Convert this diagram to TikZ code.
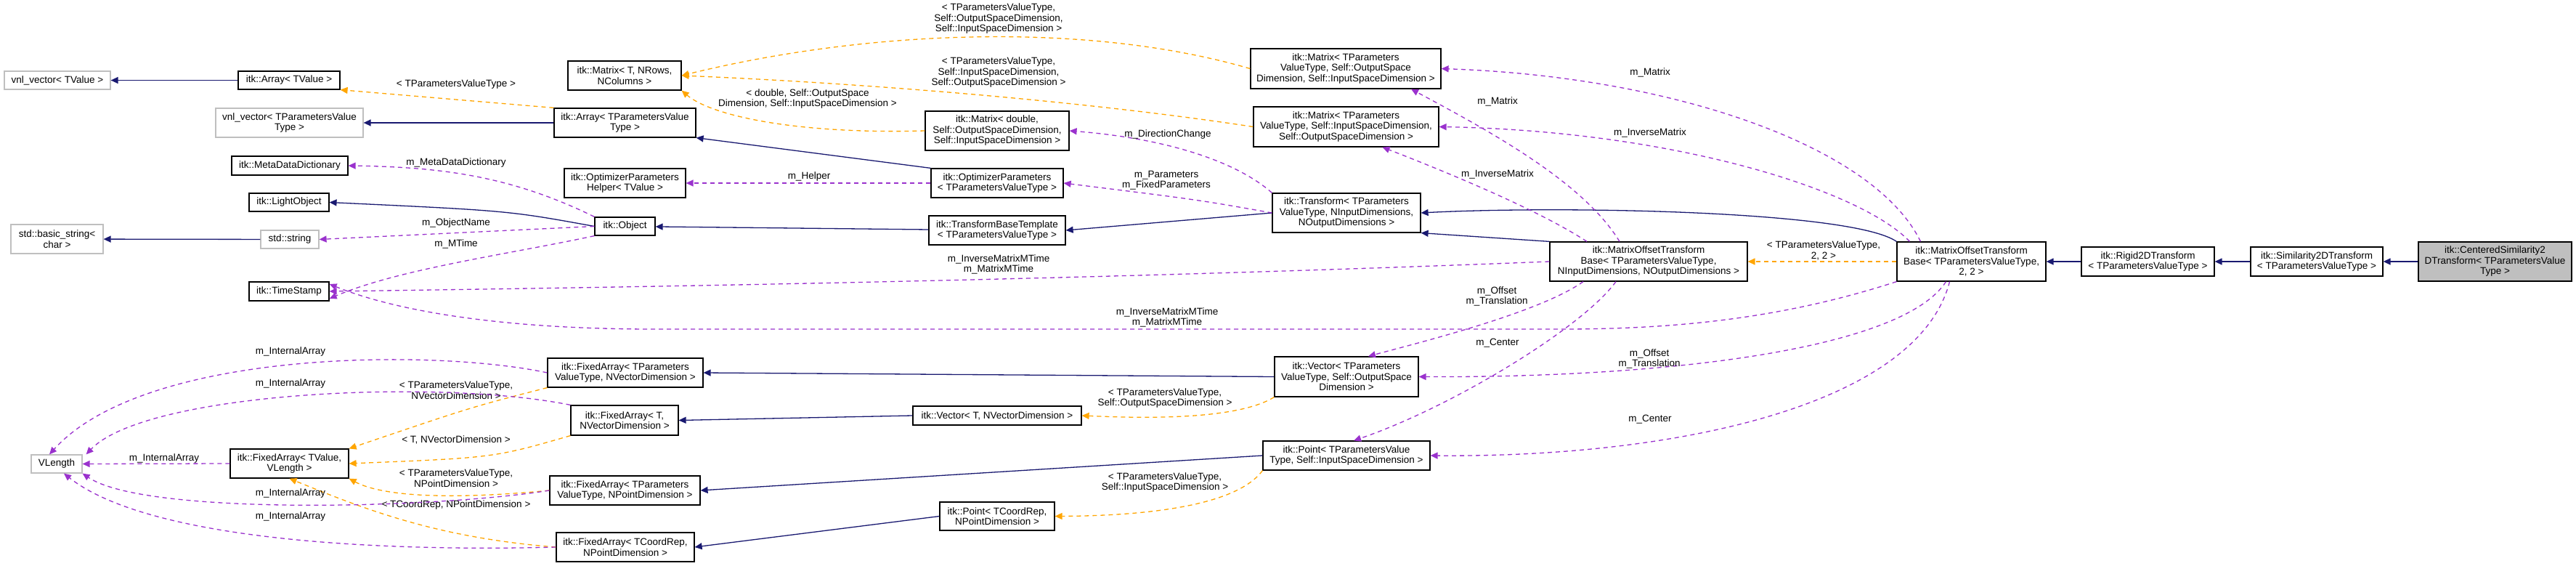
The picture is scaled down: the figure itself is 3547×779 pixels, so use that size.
\documentclass[tikz,border=0pt]{standalone}
\usepackage{fontspec}
\setmainfont{Liberation Sans}
\usetikzlibrary{arrows.meta}
\definecolor{inh}{RGB}{25,25,112}
\definecolor{tpl}{RGB}{255,165,0}
\definecolor{use}{RGB}{154,50,205}
\definecolor{gb}{RGB}{191,191,191}
\begin{document}
\begin{tikzpicture}[x=1pt,y=-1pt,
 font=\fontsize{13.5}{14.5}\selectfont,
 box/.style={draw=black,line width=1.2pt,fill=white,align=center,inner sep=1pt},
 gbox/.style={box,draw=gb},
 lab/.style={align=center,inner sep=0pt},
 ie/.style={draw=inh,line width=1.3pt,arrows={-{Triangle[length=10pt,width=9pt,fill=inh]}}},
 te/.style={draw=tpl,line width=1.3pt,dash pattern=on 6pt off 5pt,arrows={-{Triangle[length=10pt,width=9pt,fill=tpl]}}},
 ue/.style={draw=use,line width=1.3pt,dash pattern=on 6pt off 5pt,arrows={-{Triangle[length=10pt,width=9pt,fill=use]}}}]
\useasboundingbox (0,0) rectangle (3547,779);
\def\B#1#2#3#4#5#6{\node[#1,minimum width=#4,minimum height=#5] (#2) at (#3) {#6};}
\B{gbox}{vnlTV}{79,110.5}{146}{25}{vnl\_vector< TValue >}
\B{box}{arrTV}{398,110.5}{140}{25}{itk::Array< TValue >}
\B{gbox}{vnlTP}{398.5,169}{203}{40}{vnl\_vector< TParametersValue\\Type >}
\B{box}{mdd}{399,228}{160}{26}{itk::MetaDataDictionary}
\B{box}{light}{398,278.5}{110}{25}{itk::LightObject}
\B{gbox}{bstr}{78.5,329}{127}{40}{std::basic\_string<\\char >}
\B{gbox}{sstr}{399,329.5}{80}{25}{std::string}
\B{box}{obj}{860.5,311.5}{83}{25}{itk::Object}
\B{box}{matT}{860,104}{156}{40}{itk::Matrix< T, NRows,\\NColumns >}
\B{box}{arrTP}{860.5,169}{195}{40}{itk::Array< TParametersValue\\Type >}
\B{box}{oph}{860.5,252}{167}{40}{itk::OptimizerParameters\\Helper< TValue >}
\B{box}{ts}{398,401}{110}{26}{itk::TimeStamp}
\B{gbox}{vlen}{78,638.5}{70}{25}{VLength}
\B{box}{faTV}{398.5,638}{163}{40}{itk::FixedArray< TValue,\\VLength >}
\B{box}{faPV}{861,513}{214}{40}{itk::FixedArray< TParameters\\ValueType, NVectorDimension >}
\B{box}{faTN}{860,578.5}{148}{41}{itk::FixedArray< T,\\NVectorDimension >}
\B{box}{faPP}{860.5,675}{207}{40}{itk::FixedArray< TParameters\\ValueType, NPointDimension >}
\B{box}{faCP}{861,753}{190}{40}{itk::FixedArray< TCoordRep,\\NPointDimension >}
\B{box}{matD}{1373,180}{198}{54}{itk::Matrix< double,\\Self::OutputSpaceDimension,\\Self::InputSpaceDimension >}
\B{box}{opt}{1373,252}{182}{40}{itk::OptimizerParameters\\< TParametersValueType >}
\B{box}{tbt}{1373,317}{188}{40}{itk::TransformBaseTemplate\\< TParametersValueType >}
\B{box}{vecT}{1373,572}{232}{26}{itk::Vector< T, NVectorDimension >}
\B{box}{ptC}{1373,710.5}{158}{39}{itk::Point< TCoordRep,\\NPointDimension >}
\B{box}{matOI}{1853,94.5}{262}{55}{itk::Matrix< TParameters\\ValueType, Self::OutputSpace\\Dimension, Self::InputSpaceDimension >}
\B{box}{matIO}{1853.5,174.5}{255}{55}{itk::Matrix< TParameters\\ValueType, Self::InputSpaceDimension,\\Self::OutputSpaceDimension >}
\B{box}{trf}{1854,293}{204}{54}{itk::Transform< TParameters\\ValueType, NInputDimensions,\\NOutputDimensions >}
\B{box}{vecP}{1854,518.5}{198}{55}{itk::Vector< TParameters\\ValueType, Self::OutputSpace\\Dimension >}
\B{box}{ptP}{1854,627}{230}{40}{itk::Point< TParametersValue\\Type, Self::InputSpaceDimension >}
\B{box}{motbN}{2270,360}{272}{54}{itk::MatrixOffsetTransform\\Base< TParametersValueType,\\NInputDimensions, NOutputDimensions >}
\B{box}{motb2}{2714.5,360}{205}{54}{itk::MatrixOffsetTransform\\Base< TParametersValueType,\\2, 2 >}
\B{box}{rigid}{2957.5,360}{183}{40}{itk::Rigid2DTransform\\< TParametersValueType >}
\B{box}{sim}{3190,360}{182}{40}{itk::Similarity2DTransform\\< TParametersValueType >}
\node[box,fill=gb,minimum width=211,minimum height=54] (cen) at (3435.5,360) {itk::CenteredSimilarity2\\DTransform< TParametersValue\\Type >};
% inheritance
\draw[ie] (arrTV) -- (vnlTV);
\draw[ie] (arrTP) -- (vnlTP);
\draw[ie] (obj.west) .. controls (700,290) .. (light.east);
\draw[ie] (sstr) -- (bstr);
\draw[ie] (opt.north west) -- (arrTP.south east);
\draw[ie] (tbt) -- (obj);
\draw[ie] (trf.west) -- (tbt.east);
\draw[ie] (motbN.north west) -- (trf.south east);
\draw[ie] (motb2.north west) .. controls (2550,290) and (2150,283) .. (trf.east);
\draw[ie] (rigid) -- (motb2);
\draw[ie] (sim) -- (rigid);
\draw[ie] (cen) -- (sim);
\draw[ie] (vecP.west) -- (faPV.east);
\draw[ie] (vecT.west) -- (faTN.east);
\draw[ie] (ptP.west) -- (faPP.east);
\draw[ie] (ptC.west) -- (faCP.east);
% templates
\draw[te] (arrTP.north west) -- (arrTV.south east);
\node[lab] (t1) at (628,116) {< TParametersValueType >};
\draw[te] (matOI.west) .. controls (1500,30) and (1200,40) .. (matT.east);
\node[lab] (t2) at (1375,26) {< TParametersValueType,\\Self::OutputSpaceDimension,\\Self::InputSpaceDimension >};
\draw[te] (matIO.west) .. controls (1500,140) and (1200,115) .. (matT.east);
\node[lab] (t3) at (1375,100) {< TParametersValueType,\\Self::InputSpaceDimension,\\Self::OutputSpaceDimension >};
\draw[te] (matD.west) .. controls (1100,185) and (980,160) .. (matT.south east);
\node[lab] (t4) at (1112,136) {< double, Self::OutputSpace\\Dimension, Self::InputSpaceDimension >};
\draw[te] (faPV.south west) .. controls (650,560) .. (faTV.north east);
\node[lab] (t5) at (628,537) {< TParametersValueType,\\NVectorDimension >};
\draw[te] (faTN.south west) .. controls (680,630) .. (faTV.east);
\node[lab] (t6) at (628,605) {< T, NVectorDimension >};
\draw[te] (faPP.west) .. controls (600,690) and (520,680) .. (faTV.south east);
\node[lab] (t7) at (628,658) {< TParametersValueType,\\NPointDimension >};
\draw[te] (faCP.west) .. controls (600,740) and (500,700) .. (faTV.south);
\node[lab] (t8) at (628,695) {< TCoordRep, NPointDimension >};
\draw[te] (vecP.south west) .. controls (1700,580) and (1560,575) .. (vecT.east);
\node[lab] (t9) at (1604,548) {< TParametersValueType,\\Self::OutputSpaceDimension >};
\draw[te] (ptP.south west) .. controls (1700,700) and (1560,710) .. (ptC.east);
\node[lab] (t10) at (1604,664) {< TParametersValueType,\\Self::InputSpaceDimension >};
\draw[te] (motb2.west) -- (motbN.east);
\node[lab] (t11) at (2511,345) {< TParametersValueType,\\2, 2 >};
% usage
\draw[ue] (obj.north west) .. controls (700,240) and (600,230) .. (mdd.east);
\node[lab] (u1) at (628,224) {m\_MetaDataDictionary};
\draw[ue] (obj.west) -- (sstr.east);
\node[lab] (u2) at (628,307) {m\_ObjectName};
\draw[ue] (obj.south west) .. controls (700,350) and (550,370) .. ([yshift=-10]ts.east);
\node[lab] (u3) at (628,336) {m\_MTime};
\draw[ue] (opt.west) -- (oph.east);
\node[lab] (u4) at (1114,243) {m\_Helper};
\draw[ue] (trf.west) .. controls (1650,275) .. (opt.east);
\node[lab] (u5) at (1606,248) {m\_Parameters\\m\_FixedParameters};
\draw[ue] (trf.north west) .. controls (1700,220) and (1600,190) .. (matD.east);
\node[lab] (u6) at (1608,185) {m\_DirectionChange};
\draw[ue] (motbN.west) .. controls (1500,385) and (900,395) .. (ts.east);
\node[lab] (u7) at (1375,364) {m\_InverseMatrixMTime\\m\_MatrixMTime};
\draw[ue] (motb2.south west) .. controls (2450,440) and (2300,453) .. (2150,453) -- (900,453) .. controls (700,453) and (550,430) .. ([yshift=10]ts.east);
\node[lab] (u8) at (1607,437) {m\_InverseMatrixMTime\\m\_MatrixMTime};
\draw[ue] ([xshift=-40]motbN.north) .. controls (2180,250) and (2050,180) .. ([xshift=90]matOI.south);
\node[lab] (u9) at (2062,140) {m\_Matrix};
\draw[ue] ([xshift=-85]motbN.north) .. controls (2120,290) and (2000,240) .. ([xshift=50]matIO.south);
\node[lab] (u10) at (2062,240) {m\_InverseMatrix};
\draw[ue] ([xshift=-70]motb2.north) .. controls (2580,200) and (2300,105) .. (matOI.east);
\node[lab] (u11) at (2272,100) {m\_Matrix};
\draw[ue] ([xshift=-85]motb2.north) .. controls (2560,260) and (2300,180) .. (matIO.east);
\node[lab] (u12) at (2272,183) {m\_InverseMatrix};
\draw[ue] ([xshift=-90]motbN.south) .. controls (2120,430) and (1960,470) .. ([xshift=30]vecP.north);
\node[lab] (u13) at (2061,408) {m\_Offset\\m\_Translation};
\draw[ue] ([xshift=-45]motbN.south) .. controls (2180,450) and (2000,560) .. ([xshift=10]ptP.north);
\node[lab] (u14) at (2062,472) {m\_Center};
\draw[ue] ([xshift=-35]motb2.south) .. controls (2620,480) and (2300,520) .. (vecP.east);
\node[lab] (u15) at (2271,494) {m\_Offset\\m\_Translation};
\draw[ue] ([xshift=-30]motb2.south) .. controls (2640,560) and (2300,630) .. (ptP.east);
\node[lab] (u16) at (2272,577) {m\_Center};
\draw[ue] (faPV.west) .. controls (600,480) and (200,480) .. ([xshift=-10]vlen.north);
\node[lab] (v1) at (400,484) {m\_InternalArray};
\draw[ue] (faTN.north west) .. controls (600,520) and (200,540) .. ([xshift=5]vlen.north east);
\node[lab] (v2) at (400,528) {m\_InternalArray};
\draw[ue] (faTV.west) -- (vlen.east);
\node[lab] (v3) at (226,631) {m\_InternalArray};
\draw[ue] (faPP.west) .. controls (600,700) and (200,710) .. (vlen.south east);
\node[lab] (v4) at (400,679) {m\_InternalArray};
\draw[ue] (faCP.west) .. controls (500,760) and (200,740) .. ([xshift=10]vlen.south);
\node[lab] (v5) at (400,711) {m\_InternalArray};
\end{tikzpicture}
\end{document}
